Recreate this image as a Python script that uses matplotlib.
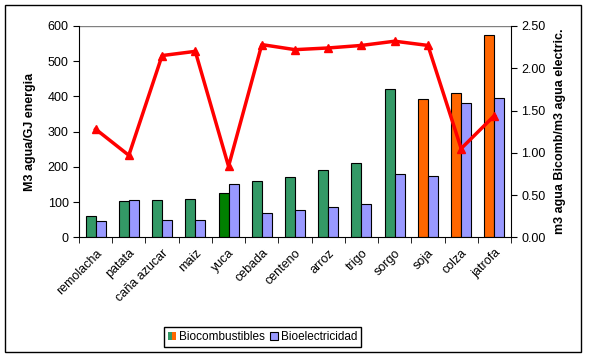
import matplotlib.pyplot as plt
import numpy as np
from matplotlib.patches import Patch, Rectangle
from matplotlib.legend_handler import HandlerTuple
from matplotlib.ticker import FormatStrFormatter

plt.rcParams['font.family'] = ['Liberation Sans', 'DejaVu Sans']

cultivos = ['remolacha', 'patata', 'caña azucar', 'maiz', 'yuca', 'cebada', 'centeno',
            'arroz', 'trigo', 'sorgo', 'soja', 'colza', 'jatrofa']
biocomb = [60, 104, 106, 109, 127, 160, 171, 190, 210, 420, 393, 409, 574]
bioelec = [46, 106, 50, 50, 150, 69, 77, 85, 94, 180, 174, 381, 396]
ratio = [1.28, 0.97, 2.15, 2.20, 0.84, 2.28, 2.22, 2.24, 2.27, 2.32, 2.27, 1.05, 1.44]
# color de la barra de biocombustible por cultivo
col_bio = ['#339966'] * 4 + ['#008000'] + ['#339966'] * 5 + ['#FF6600'] * 3

fig = plt.figure(figsize=(5.89, 3.59), dpi=100)
ax = fig.add_axes([0.1341, 0.339, 0.8676 - 0.1341, 0.9276 - 0.339])
fig.patches.append(Rectangle((5 / 589, 1 - 352 / 359), 576 / 589, 347 / 359,
                             transform=fig.transFigure, fill=False, lw=1, ec='black'))

x = np.arange(len(cultivos))
w = 0.3
ax.bar(x - w / 2, biocomb, w, color=col_bio, edgecolor='black', lw=0.8, zorder=2)
ax.bar(x + w / 2, bioelec, w, color='#9999FF', edgecolor='black', lw=0.8, zorder=2)

ax.set_xlim(-0.5, len(cultivos) - 0.5)
ax.set_ylim(0, 600)
ax.set_yticks(range(0, 601, 100))
ax.axhline(600, color='#808080', lw=1, zorder=1)
ax.spines['top'].set_visible(False)
ax.spines['right'].set_visible(False)
ax.set_xticks(x)
ax.set_xticklabels(cultivos, rotation=45, ha='right', va='top', rotation_mode='anchor', fontsize=9)
ax.set_xticks(np.arange(-0.5, len(cultivos), 1), minor=True)
ax.tick_params(axis='x', which='major', length=0, pad=7)
ax.tick_params(axis='x', which='minor', length=4, direction='out')
ax.tick_params(axis='y', length=4, direction='out', labelsize=9)
ax.set_ylabel('M3 agua/GJ energia', fontsize=9, fontweight='bold', labelpad=8)

ax2 = ax.twinx()
ax2.plot(x, ratio, color='red', lw=2.5, marker='^', ms=5.5)
ax2.set_ylim(0, 2.5)
ax2.set_yticks(np.arange(0, 2.51, 0.5))
ax2.yaxis.set_major_formatter(FormatStrFormatter('%.2f'))
ax2.tick_params(axis='y', length=4, direction='out', labelsize=9)
ax2.spines['top'].set_visible(False)
ax2.spines['left'].set_visible(False)
ax2.spines['bottom'].set_visible(False)
ax2.set_ylabel('m3 agua Bicomb/m3 agua electric.', fontsize=9, fontweight='bold', labelpad=6)

h_bio = (Patch(fc='#339966', ec='none'), Patch(fc='#FF6600', ec='none'))
h_ele = Patch(fc='#9999FF', ec='black', lw=0.8)
fig.legend([h_bio, h_ele], ['Biocombustibles', 'Bioelectricidad'],
           handler_map={tuple: HandlerTuple(ndivide=None, pad=0)},
           loc='center', bbox_to_anchor=(0.4457, 0.0613), ncol=2, fontsize=8.5,
           frameon=True, fancybox=False, edgecolor='black', framealpha=1,
           handlelength=0.7, handleheight=0.7, handletextpad=0.25, columnspacing=0.4,
           borderpad=0.3, borderaxespad=0)

fig.savefig('out.png', dpi=100)
